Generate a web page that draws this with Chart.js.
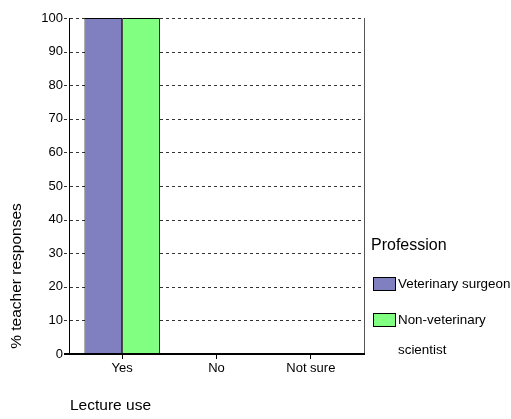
<!DOCTYPE html>
<html>
<head>
<meta charset="utf-8">
<script src="https://cdn.jsdelivr.net/npm/chart.js@4.4.0/dist/chart.umd.min.js"></script>
<style>
  html, body { margin: 0; padding: 0; background: #fff; }
  #wrap { position: relative; width: 511px; height: 419px; }
</style>
</head>
<body>
<div id="wrap"><canvas id="chart" width="511" height="419"></canvas></div>
<script>
// categories and values
const categories = ['Yes', 'No', 'Not sure'];
const vetSurgeon = [100, 0, 0];
const nonVetScientist = [100, 0, 0];
const yTicks = [0, 10, 20, 30, 40, 50, 60, 70, 80, 90, 100];

const FONT = 'Liberation Sans, Arial, sans-serif';

// plot frame is a bit wider than the category band
const FRAME_LEFT = 70, FRAME_RIGHT = 364, TICK_LEFT = 64;

// dashed grid + frame lines, drawn under the bars
const frame = {
    id: 'frame',
    beforeDatasetsDraw(chart) {
        const ctx = chart.ctx;
        const y = chart.scales.y;
        ctx.save();
        ctx.strokeStyle = '#333';
        ctx.lineWidth = 1;
        ctx.setLineDash([3, 3]);
        yTicks.forEach(v => {
            if (v === 0) return;
            const py = Math.round(y.getPixelForValue(v)) + 0.5;
            ctx.beginPath();
            ctx.moveTo(TICK_LEFT, py);
            ctx.lineTo(FRAME_RIGHT, py);
            ctx.stroke();
        });
        ctx.setLineDash([]);
        const top = Math.round(y.getPixelForValue(100));
        const bottom = Math.round(y.getPixelForValue(0));
        // left axis
        ctx.strokeStyle = '#000';
        ctx.beginPath();
        ctx.moveTo(FRAME_LEFT - 0.5, top);
        ctx.lineTo(FRAME_LEFT - 0.5, bottom);
        ctx.stroke();
        // right border
        ctx.strokeStyle = '#555';
        ctx.beginPath();
        ctx.moveTo(FRAME_RIGHT + 0.5, top);
        ctx.lineTo(FRAME_RIGHT + 0.5, bottom);
        ctx.stroke();
        ctx.restore();
    },
    afterDraw(chart) {
        const ctx = chart.ctx;
        const bottom = Math.round(chart.scales.y.getPixelForValue(0));
        ctx.save();
        // base line at zero
        ctx.strokeStyle = '#000';
        ctx.lineWidth = 2;
        ctx.beginPath();
        ctx.moveTo(TICK_LEFT, bottom);
        ctx.lineTo(FRAME_RIGHT + 1, bottom);
        ctx.stroke();

        ctx.fillStyle = '#000';
        // y title
        ctx.font = '15.5px ' + FONT;
        ctx.textAlign = 'center';
        ctx.textBaseline = 'middle';
        ctx.translate(17, 276);
        ctx.rotate(-Math.PI / 2);
        ctx.fillText('% teacher responses', 0, 0);
        ctx.setTransform(1, 0, 0, 1, 0, 0);

        // x title
        ctx.textAlign = 'left';
        ctx.fillText('Lecture use', 70, 406);

        // legend
        ctx.font = '16px ' + FONT;
        ctx.fillText('Profession', 371, 246);
        ctx.font = '13.4px ' + FONT;
        const items = [
            { color: '#8080c0', lines: ['Veterinary surgeon'], y: 284 },
            { color: '#80ff80', lines: ['Non-veterinary', 'scientist'], y: 320 }
        ];
        items.forEach(it => {
            ctx.fillStyle = it.color;
            ctx.fillRect(373, it.y - 6, 22, 13);
            ctx.strokeStyle = '#000';
            ctx.lineWidth = 1;
            ctx.strokeRect(373.5, it.y - 6.5, 22, 13);
            ctx.fillStyle = '#000';
            it.lines.forEach((t, i) => ctx.fillText(t, 398, it.y + i * 30));
        });
        ctx.restore();
    }
};

new Chart(document.getElementById('chart'), {
    type: 'bar',
    data: {
        labels: categories,
        datasets: [
            {
                label: 'Veterinary surgeon',
                data: vetSurgeon,
                backgroundColor: '#8080c0',
                borderColor: '#000',
                borderWidth: 1
            },
            {
                label: 'Non-veterinary scientist',
                data: nonVetScientist,
                backgroundColor: '#80ff80',
                borderColor: '#000',
                borderWidth: 1
            }
        ]
    },
    options: {
        responsive: false,
        animation: false,
        layout: { padding: { left: 0, right: 511 - 358, top: 18, bottom: 0 } },
        plugins: {
            legend: { display: false },
            tooltip: { enabled: false }
        },
        datasets: {
            bar: { categoryPercentage: 0.80, barPercentage: 1 }
        },
        scales: {
            x: {
                grid: {
                    offset: false,
                    drawOnChartArea: false,
                    tickLength: 5,
                    color: '#000'
                },
                border: { display: false },
                ticks: {
                    color: '#000',
                    font: { family: FONT, size: 13 },
                    padding: 2
                },
                afterFit(scale) {
                    scale.height = 65;
                    scale.paddingLeft = 0;
                    scale.paddingRight = 0;
                }
            },
            y: {
                min: 0,
                max: 100,
                afterBuildTicks(scale) {
                    scale.ticks = yTicks.map(v => ({ value: v }));
                },
                grid: { display: false, drawTicks: false },
                border: { display: false },
                ticks: {
                    color: '#000',
                    font: { family: FONT, size: 13 },
                    padding: 12
                },
                afterFit(scale) {
                    scale.width = 75;
                    scale.paddingTop = 0;
                    scale.paddingBottom = 0;
                }
            }
        }
    },
    plugins: [frame]
});
</script>
</body>
</html>
